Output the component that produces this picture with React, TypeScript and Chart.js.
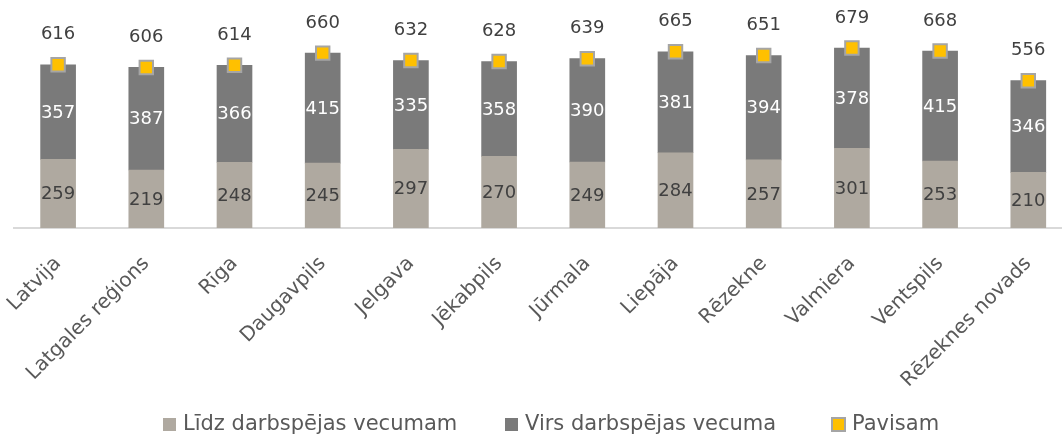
import { useEffect, useRef } from 'react';
import { Chart, registerables } from 'chart.js';

Chart.register(...registerables);

// ---- data ----
const categories = [
  'Latvija',
  'Latgales reģions',
  'Rīga',
  'Daugavpils',
  'Jelgava',
  'Jēkabpils',
  'Jūrmala',
  'Liepāja',
  'Rēzekne',
  'Valmiera',
  'Ventspils',
  'Rēzeknes novads',
];
const belowWorkingAge = [259, 219, 248, 245, 297, 270, 249, 284, 257, 301, 253, 210];
const aboveWorkingAge = [357, 387, 366, 415, 335, 358, 390, 381, 394, 378, 415, 346];
const totals = [616, 606, 614, 660, 632, 628, 639, 665, 651, 679, 668, 556];
const seriesNames = ['Līdz darbspējas vecumam', 'Virs darbspējas vecuma', 'Pavisam'];

// ---- style ----
const FONT = "'DejaVu Sans', sans-serif";
const LIGHT = '#AFA9A0';
const DARK = '#7A7A7A';
const YELLOW = '#FFC000';
const MARKER_BORDER = '#A5A5A5';
const TEXT = '#404040';
const AXIS_TEXT = '#595959';
const CANVAS_W = 1100;
const CANVAS_H = 436;
const LEGEND_BOX_X = [163, 505, 832];
const LEGEND_Y = 425;

const valueLabels = {
  id: 'valueLabels',
  afterDatasetsDraw(chart: any) {
    const ctx = chart.ctx;
    ctx.save();
    ctx.textAlign = 'center';
    ctx.textBaseline = 'middle';
    ctx.font = `18px ${FONT}`;
    chart.data.datasets.forEach((ds: any, di: number) => {
      const meta = chart.getDatasetMeta(di);
      meta.data.forEach((el: any, i: number) => {
        const v = ds.data[i];
        if (meta.type === 'bar') {
          const p = el.getProps(['x', 'y', 'base'], true);
          ctx.fillStyle = ds.labelColor;
          ctx.fillText(String(v), p.x, (p.y + p.base) / 2 + 1);
        } else {
          ctx.fillStyle = TEXT;
          ctx.fillText(String(v), el.x, el.y - 30);
        }
      });
    });
    ctx.restore();
  },
};

const customLegend = {
  id: 'customLegend',
  afterDraw(chart: any) {
    const ctx = chart.ctx;
    ctx.save();
    ctx.font = `21px ${FONT}`;
    ctx.textBaseline = 'middle';
    ctx.textAlign = 'left';
    const fills = [LIGHT, DARK, YELLOW];
    seriesNames.forEach((name, i) => {
      const bx = LEGEND_BOX_X[i];
      const size = 13;
      ctx.fillStyle = fills[i];
      ctx.fillRect(bx, LEGEND_Y - 7, size, size);
      if (i === 2) {
        ctx.strokeStyle = MARKER_BORDER;
        ctx.lineWidth = 2;
        ctx.strokeRect(bx, LEGEND_Y - 7, size, size);
      }
      ctx.fillStyle = AXIS_TEXT;
      ctx.fillText(name, bx + 20, LEGEND_Y);
    });
    ctx.restore();
  },
};

export default function App() {
  const ref = useRef<HTMLCanvasElement>(null);

  useEffect(() => {
    const chart = new Chart(ref.current as HTMLCanvasElement, {
      type: 'bar',
      data: {
        labels: categories,
        datasets: [
          {
            type: 'line',
            label: seriesNames[2],
            data: totals,
            showLine: false,
            pointStyle: 'rect',
            pointRadius: 9.5,
            pointHoverRadius: 9.5,
            pointBackgroundColor: YELLOW,
            pointBorderColor: MARKER_BORDER,
            pointBorderWidth: 2,
            order: 0,
            stack: 'total',
          } as any,
          {
            label: seriesNames[0],
            data: belowWorkingAge,
            backgroundColor: LIGHT,
            labelColor: TEXT,
            barThickness: 35,
            order: 1,
            stack: 'bars',
          } as any,
          {
            label: seriesNames[1],
            data: aboveWorkingAge,
            backgroundColor: DARK,
            labelColor: '#FFFFFF',
            barThickness: 35,
            order: 1,
            stack: 'bars',
          } as any,
        ],
      },
      options: {
        animation: false,
        responsive: false,
        devicePixelRatio: 1,
        layout: { padding: { left: 14, right: CANVAS_W - 14 - 1058.4, top: 16, bottom: 0 } },
        plugins: {
          legend: { display: false },
          tooltip: { enabled: false },
        },
        scales: {
          x: {
            stacked: true,
            grid: { display: false, drawTicks: false },
            border: { display: true, color: '#D9D9D9', width: 2 },
            ticks: {
              color: AXIS_TEXT,
              font: { family: FONT, size: 20 },
              minRotation: 45,
              maxRotation: 45,
              padding: 24,
              autoSkip: false,
            },
            afterFit(scale: any) {
              scale.height = CANVAS_H - 228;
              scale.paddingLeft = 0;
              scale.paddingRight = 0;
            },
          },
          y: {
            stacked: true,
            display: false,
            min: 0,
            max: 800,
          },
        },
      },
      plugins: [valueLabels, customLegend],
    });
    return () => chart.destroy();
  }, []);

  return (
    <div style={{ position: 'fixed', left: 0, top: 0, width: CANVAS_W, height: CANVAS_H, background: '#fff' }}>
      <canvas ref={ref} width={CANVAS_W} height={CANVAS_H} style={{ width: CANVAS_W, height: CANVAS_H, display: 'block' }} />
    </div>
  );
}
